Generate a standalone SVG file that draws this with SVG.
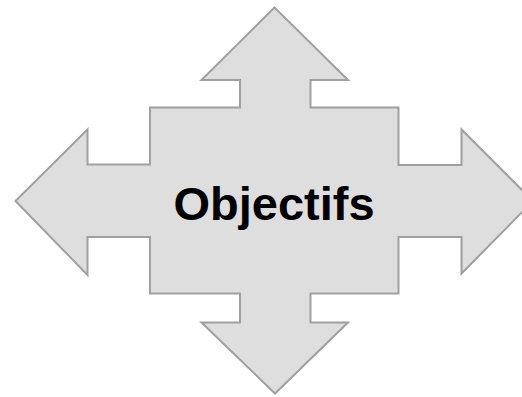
<svg xmlns="http://www.w3.org/2000/svg" width="522" height="397" viewBox="0 0 522 397">
<style>
.shape{fill:#dedede;stroke:#a0a0a0;stroke-width:2;stroke-linejoin:miter}
.label{font-family:"Liberation Sans",Arial,sans-serif;font-weight:bold;font-size:47px;fill:#000}
</style>
<rect width="522" height="397" fill="#fff"/>
<g id="objectifs">
<polygon class="shape" points="274.5,7.5 348,80 310.5,80 310.5,107.5 398.5,107.5 398.5,165 461.5,165 461.5,129.5 533,201 461.5,273.5 461.5,237 398.5,237 398.5,293.5 310.5,293.5 310.5,322.5 348,322.5 275,393.5 201.5,322.5 240,322.5 240,293.5 150,293.5 150,237 87.5,237 87.5,275 15.5,201 87.5,129.5 87.5,164.5 150,164.5 150,107.5 240,107.5 240,80 201.5,80"/>
<text class="label" x="274" y="220" text-anchor="middle">Objectifs</text>
</g>
<g id="connectors"/>
</svg>
